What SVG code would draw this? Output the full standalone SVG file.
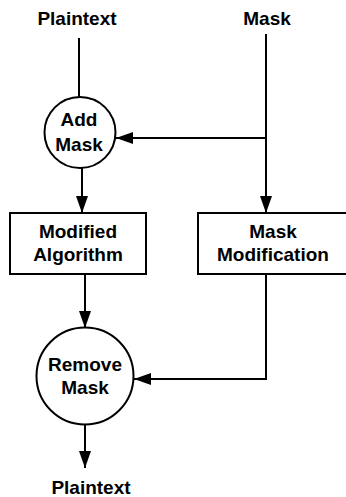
<svg xmlns="http://www.w3.org/2000/svg" width="346" height="497" viewBox="0 0 346 497">
  <style>
    .lbl { font-family: "Liberation Sans", Arial, sans-serif; font-weight: bold; font-size: 19px; fill: #000; text-anchor: middle; }
    .shape { fill: #fff; stroke: #000; stroke-width: 2; }
    .wire { fill: none; stroke: #000; stroke-width: 2; }
  </style>
  <defs>
    <marker id="arrow" viewBox="0 0 17 12" refX="17" refY="6" markerWidth="17" markerHeight="12" markerUnits="userSpaceOnUse" orient="auto">
      <path d="M0,0 L17,6 L0,12 Z" fill="#000"/>
    </marker>
  </defs>
  <rect width="346" height="497" fill="#fff"/>

  <g id="connectors">
    <line class="wire" x1="79" y1="38" x2="79" y2="97"/>
    <line class="wire" x1="266" y1="34" x2="266" y2="213" marker-end="url(#arrow)"/>
    <line class="wire" x1="266" y1="138" x2="116" y2="138" marker-end="url(#arrow)"/>
    <line class="wire" x1="82" y1="168" x2="82" y2="213" marker-end="url(#arrow)"/>
    <line class="wire" x1="85" y1="274" x2="85" y2="328" marker-end="url(#arrow)"/>
    <polyline class="wire" points="266,274 266,379 134,379" marker-end="url(#arrow)"/>
    <line class="wire" x1="85" y1="424" x2="85" y2="468" marker-end="url(#arrow)"/>
  </g>

  <g id="plaintext-in">
    <text class="lbl" x="77" y="25">Plaintext</text>
  </g>
  <g id="mask-in">
    <text class="lbl" x="267" y="25">Mask</text>
  </g>

  <g id="add-mask">
    <circle class="shape" cx="80" cy="132.5" r="35.5"/>
    <text class="lbl" x="79" y="126">Add</text>
    <text class="lbl" x="79" y="151">Mask</text>
  </g>

  <g id="modified-algorithm">
    <rect class="shape" x="10" y="213" width="136" height="61"/>
    <text class="lbl" x="78" y="238">Modified</text>
    <text class="lbl" x="78" y="261">Algorithm</text>
  </g>

  <g id="mask-modification">
    <rect class="shape" x="198" y="213" width="151" height="61"/>
    <text class="lbl" x="273" y="238">Mask</text>
    <text class="lbl" x="273" y="261">Modification</text>
  </g>

  <g id="remove-mask">
    <circle class="shape" cx="85" cy="376" r="48.5"/>
    <text class="lbl" x="85" y="371">Remove</text>
    <text class="lbl" x="85" y="394">Mask</text>
  </g>

  <g id="plaintext-out">
    <text class="lbl" x="91" y="494">Plaintext</text>
  </g>
</svg>
